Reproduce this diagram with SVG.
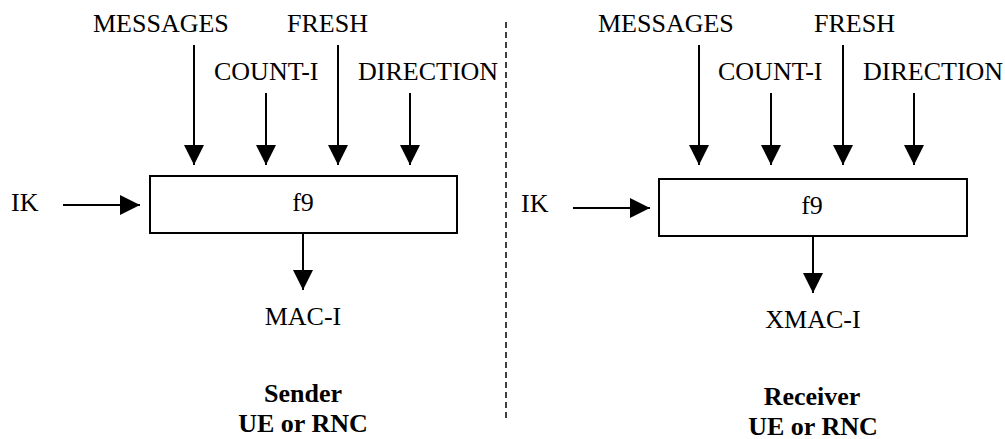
<svg xmlns="http://www.w3.org/2000/svg" width="1005" height="439" viewBox="0 0 1005 439">
<style>
text{font-family:'Liberation Serif','Times New Roman','DejaVu Serif',serif;font-size:26px;fill:#000}
.b{font-weight:bold}
.m{text-anchor:middle}
.ln{stroke:#000;stroke-width:2;fill:none}
.box{stroke:#000;stroke-width:2;fill:#fff}
</style>
<defs>
<marker id="ah" markerWidth="20" markerHeight="20" refX="20" refY="10" orient="auto" markerUnits="userSpaceOnUse" viewBox="0 0 20 20">
<path d="M0,0 L20,10 L0,20 Z" fill="#000"/>
</marker>
</defs>
<g id="divider"><line x1="506" y1="22" x2="506" y2="420" stroke="#000" stroke-width="1.5" stroke-dasharray="6,4"/></g>
<g id="sender" font-family="Liberation Serif, serif">
<g id="s-labels">
<text x="93" y="32">MESSAGES</text>
<text x="287" y="32">FRESH</text>
<text x="214" y="80">COUNT-I</text>
<text x="358" y="80">DIRECTION</text>
<text x="11" y="211">IK</text>
</g>
<g id="s-f9"><rect class="box" x="150" y="176" width="307" height="57"/><text class="m" x="303" y="211">f9</text></g>
<g id="s-out"><text class="m" x="303" y="325">MAC-I</text></g>
<g id="s-title"><text class="b m" x="303" y="402">Sender</text><text class="b m" x="303" y="432">UE or RNC</text></g>
</g>
<g id="receiver" font-family="Liberation Serif, serif">
<g id="r-labels">
<text x="598" y="32">MESSAGES</text>
<text x="814" y="32">FRESH</text>
<text x="718" y="80">COUNT-I</text>
<text x="863" y="80">DIRECTION</text>
<text x="521" y="212">IK</text>
</g>
<g id="r-f9"><rect class="box" x="659" y="179" width="308" height="57"/><text class="m" x="812" y="214">f9</text></g>
<g id="r-out"><text class="m" x="813" y="328">XMAC-I</text></g>
<g id="r-title"><text class="b m" x="812" y="405">Receiver</text><text class="b m" x="813" y="435">UE or RNC</text></g>
</g>
<g id="connectors" class="ln">
<line x1="194" y1="45" x2="194" y2="165" marker-end="url(#ah)"/>
<line x1="266" y1="93" x2="266" y2="165" marker-end="url(#ah)"/>
<line x1="338" y1="45" x2="338" y2="165" marker-end="url(#ah)"/>
<line x1="410" y1="93" x2="410" y2="165" marker-end="url(#ah)"/>
<line x1="63" y1="205" x2="140" y2="205" marker-end="url(#ah)"/>
<line x1="303" y1="233" x2="303" y2="290" marker-end="url(#ah)"/>
<line x1="699" y1="45" x2="699" y2="165" marker-end="url(#ah)"/>
<line x1="771" y1="93" x2="771" y2="165" marker-end="url(#ah)"/>
<line x1="843" y1="45" x2="843" y2="165" marker-end="url(#ah)"/>
<line x1="914" y1="93" x2="914" y2="165" marker-end="url(#ah)"/>
<line x1="573" y1="208" x2="650" y2="208" marker-end="url(#ah)"/>
<line x1="813" y1="236" x2="813" y2="293" marker-end="url(#ah)"/>
</g>
</svg>
